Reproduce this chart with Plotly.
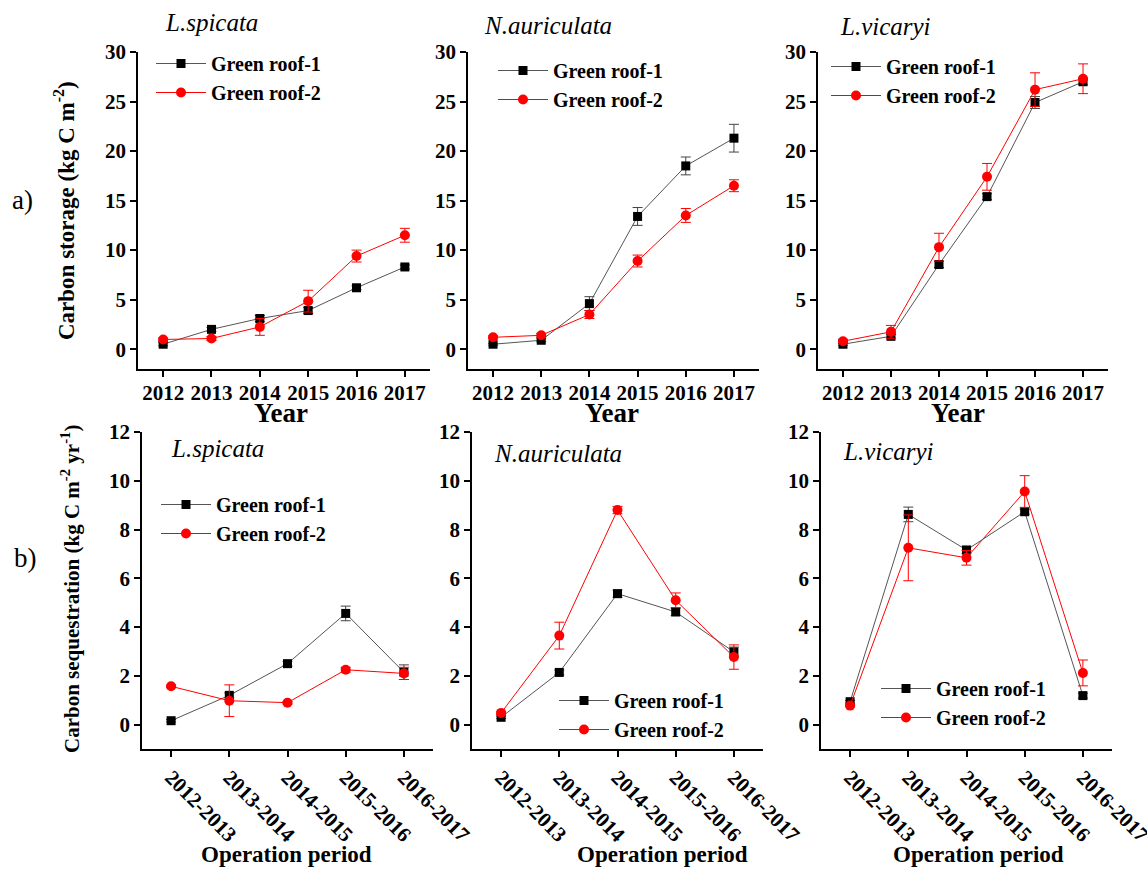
import plotly.graph_objects as go

W, H = 1147, 870

years = [2012, 2013, 2014, 2015, 2016, 2017]
periods = ["2012-2013", "2013-2014", "2014-2015", "2015-2016", "2016-2017"]
species = ["L.spicata", "N.auriculata", "L.vicaryi"]
series_names = ["Green roof-1", "Green roof-2"]
stor_ticks = [0, 5, 10, 15, 20, 25, 30]
seq_ticks = [0, 2, 4, 6, 8, 10, 12]

# a) Carbon storage (kg C m-2)
stor_gr1 = [
    [0.5, 2.0, 3.1, 3.9, 6.2, 8.3],
    [0.5, 0.9, 4.6, 13.4, 18.5, 21.3],
    [0.5, 1.3, 8.55, 15.4, 24.9, 27.0],
]
stor_gr1_err = [
    [0.15, 0.2, 0.3, 0.3, 0.2, 0.2],
    [0.1, 0.15, 0.7, 0.9, 0.9, 1.4],
    [0.1, 0.2, 0.3, 0.3, 0.6, 0.3],
]
stor_gr2 = [
    [0.98, 1.08, 2.25, 4.85, 9.4, 11.5],
    [1.2, 1.4, 3.5, 8.9, 13.5, 16.5],
    [0.8, 1.75, 10.3, 17.4, 26.2, 27.3],
]
stor_gr2_err = [
    [0.15, 0.2, 0.85, 1.1, 0.6, 0.7],
    [0.15, 0.2, 0.4, 0.6, 0.7, 0.6],
    [0.2, 0.65, 1.4, 1.35, 1.7, 1.5],
]

# b) Carbon sequestration (kg C m-2 yr-1)
seq_gr1 = [
    [0.16, 1.2, 2.5, 4.56, 2.15],
    [0.3, 2.14, 5.37, 4.62, 2.98],
    [0.94, 8.62, 7.16, 8.73, 1.19],
]
seq_gr1_err = [
    [0.05, 0.1, 0.1, 0.3, 0.3],
    [0.05, 0.1, 0.15, 0.15, 0.2],
    [0.05, 0.3, 0.15, 0.1, 0.1],
]
seq_gr2 = [
    [1.57, 0.98, 0.9, 2.25, 2.1],
    [0.48, 3.65, 8.8, 5.1, 2.77],
    [0.78, 7.25, 6.84, 9.56, 2.12],
]
seq_gr2_err = [
    [0.05, 0.65, 0.05, 0.1, 0.25],
    [0.05, 0.55, 0.15, 0.3, 0.5],
    [0.05, 1.35, 0.3, 0.65, 0.53],
]

SERIF = "Liberation Serif"
BLACK = "#000000"
RED = "#FF0000"

def b(t):
    return f"<b>{t}</b>"

def px_x(p):
    return p / W

def px_y(p):
    return 1 - p / H

top_x = [(138, 430), (468, 759), (818, 1108)]
bot_x = [(142, 433), (472, 763), (821, 1112)]
top_y = (52, 369)
bot_y = (432, 749)

fig = go.Figure()

legend_pos = [(151, 44), (493, 51), (826, 47), (156, 485), (554, 681), (876, 669)]

def add_pair(xvals, g1, e1, g2, e2, xa, ya, leg):
    fig.add_trace(go.Scatter(
        x=xvals, y=g1, name=b(series_names[0]), mode="lines+markers",
        line=dict(color="#555555", width=1),
        marker=dict(symbol="square", size=9, color=BLACK),
        error_y=dict(type="data", array=e1, color="#444444", thickness=1, width=5),
        xaxis=xa, yaxis=ya, legend=leg))
    fig.add_trace(go.Scatter(
        x=xvals, y=g2, name=b(series_names[1]), mode="lines+markers",
        line=dict(color=RED, width=1),
        marker=dict(symbol="circle", size=10, color=RED),
        error_y=dict(type="data", array=e2, color=RED, thickness=1, width=5),
        xaxis=xa, yaxis=ya, legend=leg))

axis_common = dict(
    showline=True, linecolor=BLACK, linewidth=1.6, ticks="outside",
    ticklen=6, tickwidth=1.5, tickcolor=BLACK, showgrid=False, zeroline=False,
    tickfont=dict(family=SERIF, size=21, color=BLACK),
    mirror=False, automargin=False,
)

layout = {}
for i in range(3):
    n = i + 1
    xa = "x" if n == 1 else f"x{n}"
    ya = "y" if n == 1 else f"y{n}"
    leg = "legend" if n == 1 else f"legend{n}"
    add_pair(years, stor_gr1[i], stor_gr1_err[i], stor_gr2[i], stor_gr2_err[i], xa, ya, leg)
    layout["xaxis" if n == 1 else f"xaxis{n}"] = dict(
        axis_common, domain=[px_x(top_x[i][0]), px_x(top_x[i][1])],
        range=[2011.48, 2017.52], tickvals=years,
        ticktext=[b(y) for y in years], anchor=ya, ticklabelstandoff=-2)
    layout["yaxis" if n == 1 else f"yaxis{n}"] = dict(
        axis_common, domain=[px_y(top_y[1]), px_y(top_y[0])],
        range=[-2, 30], tickvals=stor_ticks,
        ticktext=[b(t) for t in stor_ticks], anchor=xa)

for i in range(3):
    n = i + 4
    xa = f"x{n}"
    ya = f"y{n}"
    leg = f"legend{n}"
    add_pair(periods, seq_gr1[i], seq_gr1_err[i], seq_gr2[i], seq_gr2_err[i], xa, ya, leg)
    layout[f"xaxis{n}"] = dict(
        axis_common, domain=[px_x(bot_x[i][0]), px_x(bot_x[i][1])],
        type="category", range=[-0.5, 4.5], tickangle=45, anchor=ya,
        tickvals=periods, ticktext=[b(p) for p in periods])
    layout[f"yaxis{n}"] = dict(
        axis_common, domain=[px_y(bot_y[1]), px_y(bot_y[0])],
        range=[-1, 12], tickvals=seq_ticks,
        ticktext=[b(t) for t in seq_ticks], anchor=xa)

for k, (lx, ly) in enumerate(legend_pos):
    key = "legend" if k == 0 else f"legend{k+1}"
    layout[key] = dict(
        x=px_x(lx), y=px_y(ly), xanchor="left", yanchor="top",
        bgcolor="rgba(0,0,0,0)", borderwidth=0, itemwidth=50,
        font=dict(family=SERIF, size=20, color=BLACK),
        tracegroupgap=0,
    )

annotations = []
def ann(text, x, y, size, **kw):
    d = dict(text=text, x=px_x(x), y=px_y(y), xref="paper", yref="paper",
             xanchor="center", yanchor="middle",
             showarrow=False, font=dict(family=SERIF, size=size, color=BLACK))
    d.update(kw)
    annotations.append(d)

# species titles
top_sp = [(211, 22), (548, 25), (885, 27)]
bot_sp = [(217, 449), (558, 453), (888, 451)]
for s, (x, y) in zip(species, top_sp):
    ann(f"<i>{s}</i>", x, y, 25)
for s, (x, y) in zip(species, bot_sp):
    ann(f"<i>{s}</i>", x, y, 25)

for x in [281, 612, 958]:
    ann(b("Year"), x, 413, 27)
for x in [286, 662, 978]:
    ann(b("Operation period"), x, 854, 23)

ann("a)", 22, 200, 27)
ann("b)", 25, 558, 27)
ann(b("Carbon storage (kg C m<sup>-2</sup>)"), 64, 211, 23, textangle=-90)
ann(b("Carbon sequestration (kg C m<sup>-2</sup> yr<sup>-1</sup>)"), 70, 589, 21,
    textangle=-90)

fig.update_layout(
    template="none",
    width=W, height=H, margin=dict(l=0, r=0, t=0, b=0, autoexpand=False),
    paper_bgcolor="white", plot_bgcolor="white",
    font=dict(family=SERIF, color=BLACK),
    annotations=annotations, showlegend=True,
    **layout,
)

fig.write_html("out.html")
